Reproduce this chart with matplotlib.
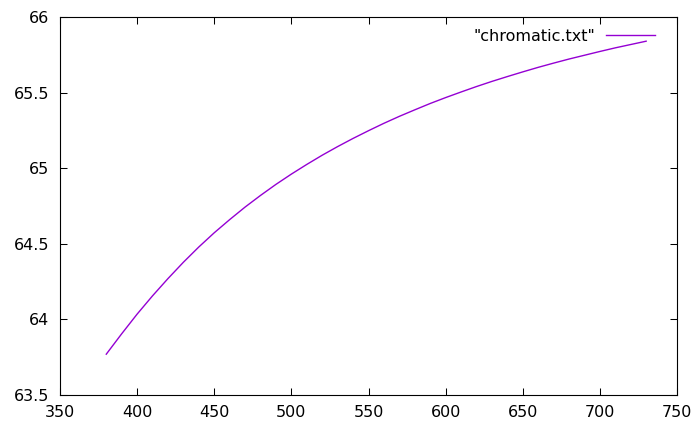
import matplotlib
matplotlib.use("Agg")
import matplotlib.pyplot as plt

# wavelength (nm) and value
wavelength = [380, 390, 400, 410, 420, 430, 440, 450, 460, 470, 480, 490,
              500, 510, 520, 530, 540, 550, 560, 570, 580, 590, 600, 610,
              620, 630, 640, 650, 660, 670, 680, 690, 700, 710, 720, 730]
value = [63.770, 63.905, 64.035, 64.156, 64.270, 64.378, 64.479, 64.573,
         64.660, 64.743, 64.820, 64.893, 64.961, 65.025, 65.086, 65.143,
         65.197, 65.248, 65.297, 65.343, 65.386, 65.428, 65.467, 65.504,
         65.540, 65.574, 65.606, 65.637, 65.667, 65.695, 65.722, 65.747,
         65.772, 65.796, 65.818, 65.840]

xticks = [350, 400, 450, 500, 550, 600, 650, 700, 750]
yticks = [63.5, 64, 64.5, 65, 65.5, 66]
ytick_labels = ["63.5", "64", "64.5", "65", "65.5", "66"]

fig = plt.figure(figsize=(6.94, 4.23), dpi=100)
ax = fig.add_axes([60 / 694, 28 / 423, 617 / 694, 378 / 423])

ax.plot(wavelength, value, color="#9400d3", lw=1.0, label='"chromatic.txt"')

ax.set_xlim(350, 750)
ax.set_ylim(63.5, 66)
ax.set_xticks(xticks)
ax.set_yticks(yticks)
ax.set_yticklabels(ytick_labels)
ax.tick_params(direction="in", length=5, width=0.75, top=True, right=True,
               labelsize=11.5)
ax.tick_params(axis="y", pad=8)
ax.tick_params(axis="x", pad=7)
for s in ax.spines.values():
    s.set_linewidth(0.8)

ax.legend(loc="upper right", bbox_to_anchor=(0.975, 0.985), borderaxespad=0,
          frameon=False, markerfirst=False, fontsize=11.5,
          handlelength=3.05, handletextpad=0.7)

fig.savefig("out.png", dpi=100)
